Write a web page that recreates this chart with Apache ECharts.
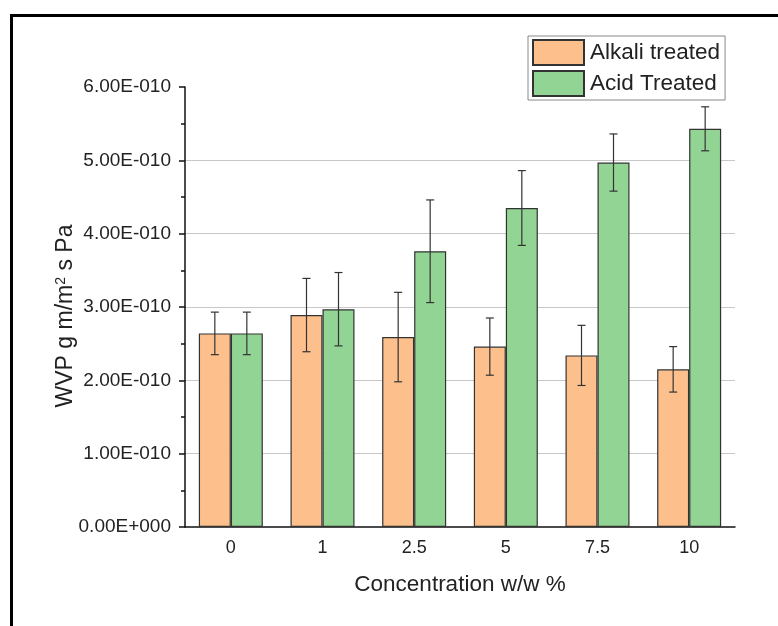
<!DOCTYPE html>
<html>
<head>
<meta charset="utf-8">
<script src="https://cdn.jsdelivr.net/npm/echarts@6/dist/echarts.min.js"></script>
<style>
  html, body { margin: 0; padding: 0; background: #fff; }
  #chart { width: 778px; height: 626px; }
</style>
</head>
<body>
<div id="chart"></div>
<script>
// Concentration levels (w/w %)
const categories = ['0', '1', '2.5', '5', '7.5', '10'];

// Water vapour permeability, g m/m^2 s Pa
const alkaliMean = [2.64e-10, 2.89e-10, 2.59e-10, 2.46e-10, 2.34e-10, 2.15e-10];
const alkaliErr  = [0.29e-10, 0.50e-10, 0.61e-10, 0.39e-10, 0.41e-10, 0.31e-10];
const acidMean   = [2.64e-10, 2.97e-10, 3.76e-10, 4.35e-10, 4.97e-10, 5.43e-10];
const acidErr    = [0.29e-10, 0.50e-10, 0.70e-10, 0.51e-10, 0.39e-10, 0.30e-10];

// Y axis range and step
const yMin = 0;
const yMax = 6e-10;
const yStep = 1e-10;

const BAR_W = 32;
const FONT = '"Liberation Sans", Arial, sans-serif';

// Formats a value as e.g. 6.00E-010
function sci(v) {
  const parts = Number(v).toExponential(2).split('e');
  const n = parseInt(parts[1], 10);
  return parts[0] + 'E' + (n < 0 ? '-' : '+') + String(Math.abs(n)).padStart(3, '0');
}

function errorData(mean, err) {
  return mean.map((m, i) => [i, m, m - err[i], m + err[i]]);
}

function errorSeries(name, mean, err, offset) {
  return {
    type: 'custom',
    name: name + ' error',
    xAxisIndex: 0,
    yAxisIndex: 0,
    z: 5,
    silent: true,
    encode: { x: 0, y: [2, 3] },
    data: errorData(mean, err),
    renderItem: function (params, api) {
      const lo = api.coord([api.value(0), api.value(2)]);
      const hi = api.coord([api.value(0), api.value(3)]);
      const x = lo[0] + offset;
      const cap = 4;
      const style = { stroke: '#333', lineWidth: 1.2 };
      return {
        type: 'group',
        children: [
          { type: 'line', shape: { x1: x, y1: lo[1], x2: x, y2: hi[1] }, style: style },
          { type: 'line', shape: { x1: x - cap, y1: hi[1], x2: x + cap, y2: hi[1] }, style: style },
          { type: 'line', shape: { x1: x - cap, y1: lo[1], x2: x + cap, y2: lo[1] }, style: style }
        ]
      };
    }
  };
}

const chart = echarts.init(document.getElementById('chart'), null, { renderer: 'canvas' });

chart.setOption({
  backgroundColor: '#fff',
  animation: false,
  textStyle: { fontFamily: FONT, color: '#222' },
  graphic: [{
    type: 'rect',
    z: 100,
    shape: { x: 11.5, y: 15.5, width: 900, height: 800 },
    style: { fill: 'none', stroke: '#000', lineWidth: 3 }
  }],
  legend: {
    orient: 'vertical',
    left: 528,
    top: 36,
    icon: 'rect',
    itemWidth: 51,
    itemHeight: 25,
    itemGap: 4,
    padding: [3, 5, 3, 4],
    borderColor: '#888',
    borderWidth: 1,
    borderRadius: 0,
    textStyle: { fontFamily: FONT, fontSize: 22.5, color: '#222', lineHeight: 25, padding: [0, 0, 0, 1] },
    data: ['Alkali treated', 'Acid Treated']
  },
  grid: { left: 185, top: 87, right: 43, bottom: 99, containLabel: false },
  xAxis: [{
    type: 'category',
    data: categories,
    position: 'bottom',
    name: 'Concentration w/w %',
    nameLocation: 'middle',
    nameGap: 46,
    nameMoveOverlap: false,
    nameTextStyle: { fontFamily: FONT, fontSize: 22.5, color: '#222' },
    axisLine: { lineStyle: { color: '#111', width: 1.5 } },
    axisTick: { alignWithLabel: true, length: 7, lineStyle: { color: '#111', width: 1.5 } },
    axisLabel: { fontFamily: FONT, fontSize: 18, color: '#222', margin: 12 }
  }, {
    type: 'category',
    data: categories,
    position: 'bottom',
    axisLine: { show: false },
    axisTick: { length: 4, lineStyle: { color: '#111', width: 1.5 } },
    axisLabel: { show: false },
    splitLine: { show: false }
  }],
  yAxis: [{
    type: 'value',
    min: yMin,
    max: yMax,
    interval: yStep,
    name: 'WVP g m/m{sup|2} s Pa',
    nameLocation: 'middle',
    nameGap: 108,
    nameMoveOverlap: false,
    nameTextStyle: {
      fontFamily: FONT, fontSize: 23, color: '#222',
      padding: [0, 18, 0, 0],
      rich: {
        sup: { fontFamily: FONT, fontSize: 14, color: '#222', verticalAlign: 'top', lineHeight: 14 }
      }
    },
    axisLine: { show: true, lineStyle: { color: '#111', width: 1.5 } },
    axisTick: { show: true, length: 6, lineStyle: { color: '#111', width: 1.5 } },
    minorTick: { show: true, splitNumber: 2, length: 4, lineStyle: { color: '#111', width: 1.5 } },
    axisLabel: { fontFamily: FONT, fontSize: 19, color: '#222', margin: 14, formatter: sci },
    splitLine: {
      show: true,
      lineStyle: {
        color: ['transparent', '#c8c8c8', '#c8c8c8', '#c8c8c8', '#c8c8c8', '#c8c8c8', 'transparent'],
        width: 1
      }
    }
  }],
  series: [{
    name: 'Alkali treated',
    type: 'bar',
    data: alkaliMean,
    barWidth: BAR_W,
    barGap: '0%',
    itemStyle: { color: '#FDC08D', borderColor: '#333', borderWidth: 1.2 }
  }, {
    name: 'Acid Treated',
    type: 'bar',
    data: acidMean,
    barWidth: BAR_W,
    barGap: '0%',
    itemStyle: { color: '#92D494', borderColor: '#333', borderWidth: 1.2 }
  },
  errorSeries('Alkali treated', alkaliMean, alkaliErr, -BAR_W / 2),
  errorSeries('Acid Treated', acidMean, acidErr, BAR_W / 2)
  ]
});
</script>
</body>
</html>
